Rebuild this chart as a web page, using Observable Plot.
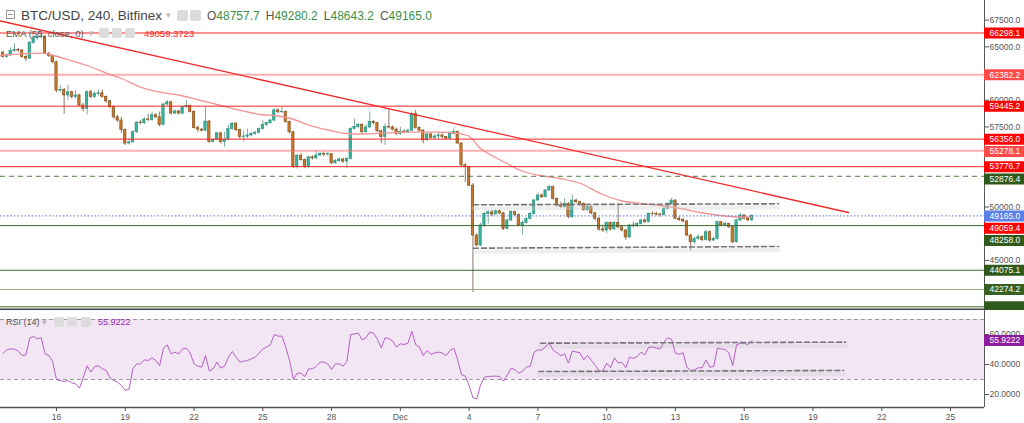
<!DOCTYPE html>
<html>
<head>
<meta charset="utf-8">
<script src="https://cdn.jsdelivr.net/npm/d3@7"></script>
<script src="https://cdn.jsdelivr.net/npm/@observablehq/plot@0.6"></script>
<style>
html,body{margin:0;padding:0;background:#fff;overflow:hidden;}
#wrap{position:relative;width:1024px;height:423px;font-family:"Liberation Sans",Arial,sans-serif;}
#main,#rsi{position:absolute;left:0;}
#main{top:0;}
#rsi{top:309px;}
.lg{position:absolute;white-space:nowrap;line-height:1;}
.ico{position:absolute;background:#dcdcdc;border-radius:2px;}
.arr{position:absolute;color:#b5b5b5;font-size:9px;line-height:1;}
</style>
</head>
<body>
<div id="wrap">
  <div id="main"></div>
  <div id="rsi"></div>
</div>
<script>
// ---------------- DATA ----------------
const firstCandle = "2021-11-13T16:00Z";   // 240-minute candles
const open = [
64450,64050,64200,64600,64700,64650,64050,63900,65380,65800,
65900,65950,64350,64150,63560,60900,60950,60450,60750,60300,
60450,59500,59200,60750,60300,60600,60650,60300,59900,59350,
58400,58100,57200,55950,56050,57000,57900,57850,58200,58150,
58600,58400,57700,59600,59800,58750,58950,58750,59350,59450,
58900,57400,57250,57150,58000,56100,56300,56900,56100,56300,
57300,57800,57200,56550,56600,56700,56850,56950,57300,57700,
57850,58100,59050,58880,58900,57950,57000,53730,54800,54400,
53750,54650,54550,54820,54980,54900,54950,54100,54300,54450,
54250,54500,57320,57480,57700,57000,57450,57950,57850,57100,
56550,57500,57450,57250,56850,57050,57000,57150,58700,57400,
57150,56250,56800,56450,56600,56700,56550,56400,56850,57050,
55950,53900,53750,52000,47330,46400,48270,49360,49500,49300,
49600,49400,47950,48740,49520,49250,48270,48500,48890,49360,
50610,51080,50920,51550,51860,50770,50140,50000,50300,49050,
50600,50450,50300,49700,50000,49400,48900,47900,47800,48500,
47900,48500,48100,47800,47150,48270,48200,48400,48740,48600,
49360,49350,49300,49250,49830,50300,50600,48900,48800,48650,
47330,46700,47000,47170,46900,47640,46860,47000,48580,48300,
48420,48110,46700,48740,49200,48900,48757.7];
const high = [
64600,64350,64900,65300,64850,64750,64200,65500,65950,66150,
66380,66050,64500,64250,63650,61400,61100,61400,60850,60900,
60550,59700,60900,60950,60800,60950,60950,60400,60000,59450,
58600,58400,57300,56400,57150,58000,58100,58350,58700,58900,
58750,58900,59700,60000,59900,59100,59050,59450,59950,59550,
59000,57600,57350,59350,58100,56400,57000,57000,57000,57650,
57900,57900,57300,57150,57300,57000,57100,57400,58100,57950,
58200,59200,59200,59350,59000,58050,57100,54950,55000,54500,
54750,54800,55290,55100,55150,55100,55000,54450,54600,54550,
54650,57450,58250,57850,57800,57700,58880,58100,57950,57200,
57790,59190,57600,57400,57480,57250,57300,58880,59040,57500,
57250,56950,56950,56800,56900,56850,56600,57000,57320,57100,
56000,54050,53800,52200,47500,48500,49500,49650,49700,49750,
49700,49500,48850,49650,49600,49350,48700,49000,49500,50700,
51300,51200,51650,52050,51950,50850,50450,50800,50400,51100,
50750,50550,50400,50200,50100,49500,49000,48300,48600,48600,
48650,50300,48250,47900,48400,48580,48550,48850,48900,49450,
49550,49520,49400,49950,50400,50800,50700,49100,48950,48750,
47450,47200,47400,47300,47800,47750,47200,48700,48650,48600,
48500,48250,48850,49400,49300,49050,49280.2];
const low = [
63950,63900,64100,64450,64500,63950,63600,63800,65250,65650,
65750,64250,64000,63400,60700,60700,58700,60000,60100,60100,
59400,58900,58600,60150,60150,60400,60200,59700,59200,58200,
57900,56900,55750,55800,55950,56900,57700,57700,58000,58050,
58300,57500,57600,59450,58600,58650,58600,58650,59250,58800,
57300,57000,57000,57050,55950,56000,56200,55900,55600,56200,
57200,57050,56350,56100,56400,56550,56700,56850,57200,57500,
57750,58000,58750,58750,57850,56850,53600,53550,54300,53600,
53650,54400,54450,54750,54700,54800,53950,54000,54200,54100,
53600,54400,57200,57350,56850,56900,57350,57700,56950,55920,
55770,57300,57100,56700,56700,56850,56900,57050,57300,57000,
55920,56150,56350,56300,56300,56400,56250,56300,56800,55850,
53800,52300,51900,42000,46250,46250,48100,48400,49100,49200,
49250,47800,47850,48650,49100,48150,47350,48400,48800,49250,
50500,50800,50850,51450,50650,50000,49850,49900,48900,48950,
50300,50100,49600,49600,49300,48700,47700,47600,47500,47750,
47800,47950,47650,46900,47050,48050,48050,48300,48450,48500,
49200,49150,49050,49150,49750,50200,48800,48650,48500,47200,
45900,46500,46850,46750,46800,46700,46750,46900,48150,48200,
48000,46550,46600,48650,48800,48600,48643.2];
const close = [
64050,64200,64600,64700,64650,64050,63900,65380,65800,65900,
65950,64350,64150,63560,60900,60950,60450,60750,60300,60450,
59500,59200,60750,60300,60600,60650,60300,59900,59350,58400,
58100,57200,55950,56050,57000,57900,57850,58200,58150,58600,
58400,57700,59600,59800,58750,58950,58750,59350,59450,58900,
57400,57250,57150,58000,56100,56300,56900,56100,56300,57300,
57800,57200,56550,56600,56700,56850,56950,57300,57700,57850,
58100,59050,58880,58900,57950,57000,53730,54800,54400,53750,
54650,54550,54820,54980,54900,54950,54100,54300,54450,54250,
54500,57320,57480,57700,57000,57450,57950,57850,57100,56550,
57500,57450,57250,56850,57050,57000,57150,58700,57400,57150,
56250,56800,56450,56600,56700,56550,56400,56850,57050,55950,
53900,53750,52000,47330,46400,48270,49360,49500,49300,49600,
49400,47950,48740,49520,49250,48270,48500,48890,49360,50610,
51080,50920,51550,51860,50770,50140,50000,50300,49050,50600,
50450,50300,49700,50000,49400,48900,47900,47800,48500,47900,
48500,48100,47800,47150,48270,48200,48400,48740,48600,49360,
49350,49300,49250,49830,50300,50600,48900,48800,48650,47330,
46700,47000,47170,46900,47640,46860,47000,48580,48300,48420,
48110,46700,48740,49200,48900,48757.7,49165.0];
const rsi = [
47.5,49.8,50.4,50.2,48.9,46,46.4,57.6,58.7,57.1,
57.8,47.1,46,42,29.8,29.3,28.7,29.3,27.8,27.1,
24.2,31.1,39.1,34.9,38.7,39.1,37.1,36,31.1,29.3,
28.2,26,22.7,23.6,37.1,40.4,40.4,43.1,42.7,44.4,
42.7,39.3,50.9,53.1,47.1,48.2,47.1,50.4,50.9,47.6,
40.4,38.9,38.2,46,35.6,37.1,41.6,37.6,38.9,44.9,
48.7,44.9,41.6,42.2,42.7,43.8,44.9,47.6,50.4,51.6,
53.3,60,58.9,58.9,51.6,42.7,30,34.2,34.2,32,
37.1,37.1,38.7,41.6,41.6,40.4,36.7,40.4,40.4,38.9,
42,60,60.4,60.9,56.4,57.8,61.6,60.9,56.7,51.1,
57.8,57.3,55.6,51.6,53.8,53.3,54.2,62.2,53.3,51.6,
46,49.3,46.7,47.8,48.2,47.6,46,49.3,50.9,43.1,
33.3,32.2,26,17.8,17.1,26.5,31.6,32,32.2,32.2,
32,28.9,33,37.6,36.5,34.2,35.6,38.2,38.9,48.2,
49.8,49.5,52,54.2,49.5,47.8,45.8,47.1,40.9,48.9,
48.4,47.8,43.1,46,42.7,39.5,35.6,35.6,40.9,37.8,
44.4,41,41.5,37.8,44.9,44,45.3,48.2,46.4,51.6,
51.6,51,50.4,54.9,57.8,56.7,47.6,46.8,47.8,38.2,
36,36.5,37.8,37.8,43.1,38.2,38.7,50.9,50.4,50,
47.6,39.3,53.1,54.2,54.2,53.3,55.9222];
// EMA(55, close): candle position and value
const emaPos = [-0.65,10.6,13.2,16.9,22,28,31,36,41,46.5,51.7,57,62.2,67.4,71.9,75.3,80.5,85.7,90.2,93.6,98.8,105.9,112.7,117.1,121.6,125,128.9,132.9,135.5,140.7,145.9,151.2,156.4,161.6,166.9,172.1,177.4,182.6,187.8,193,196];
const emaVal = [64190,64405,64190,63815,63253,62410,62035,61220,60750,60443,59975,59507,59038,58664,58523,58289,57633,57165,56884,56837,56912,57006,57006,56978,56697,55479,54636,53887,53419,52950,52669,52201,51264,50609,50328,50140,49859,49485,49204,49063,49059.3723];
// horizontal levels on the chart
const levelPrice = [66298.1,62382.2,59445.2,56356.0,55278.1,53776.7,52876.4,48258.0,44075.1,42274.2,40650.0];
const levelKind  = ["red","pink","red","red","pink","red","gdash","green","green","glight","green"];
const lastPrice = 49165.0;
const emaLast = 49059.4;
// descending trend line
const trendT = ["2021-11-13T13:22Z","2021-12-20T13:12Z"];
const trendP = [67421, 49485];
// price channel (dashed)
const chanT = ["2021-12-04T04:35Z","2021-12-17T11:55Z"];
const chanUpper = [50206, 50300];
const chanLower = [46141, 46300];
// RSI channel
const rsiUpT = ["2021-12-07T02:44Z","2021-12-20T10:05Z"], rsiUpV = [54.2, 54.9];
const rsiLoT = ["2021-12-07T00:58Z","2021-12-20T08:17Z"], rsiLoV = [35.3, 36.0];
// ticks
const priceTicks = [45000,50000,57500,60000,65000,67500];
const rsiTicks = [20,40,60];
const dayTicks = ["2021-11-16","2021-11-19","2021-11-22","2021-11-25","2021-11-28","2021-12-01","2021-12-04","2021-12-07","2021-12-10","2021-12-13","2021-12-16","2021-12-19","2021-12-22","2021-12-25"];
const dayLabels = ["16","19","22","25","28","Dec","4","7","10","13","16","19","22","25"];
const xDomain = [new Date("2021-11-13T13:22Z"), new Date("2021-12-26T11:35Z")];

// ---------------- BUILD ----------------
const HOUR = 3600e3;
const t0 = +new Date(firstCandle);
const candles = close.map((c, i) => ({t: new Date(t0 + i*4*HOUR), o: open[i], h: high[i], l: low[i], c, up: c >= open[i], r: rsi[i]}));
const ema = emaPos.map((p, i) => ({t: new Date(t0 + p*4*HOUR), v: emaVal[i]}));
const trend = trendT.map((d, i) => ({t: new Date(d), p: trendP[i]}));
const chUp = chanT.map((d, i) => ({t: new Date(d), p: chanUpper[i]}));
const chLo = chanT.map((d, i) => ({t: new Date(d), p: chanLower[i]}));
const rUp = rsiUpT.map((d, i) => ({t: new Date(d), v: rsiUpV[i]}));
const rLo = rsiLoT.map((d, i) => ({t: new Date(d), v: rsiLoV[i]}));

const FRAME_W = 984, MAIN_H = 309;
const yDom = [40400, 69341];
const pxToDate = px => new Date(+xDomain[0] + px / FRAME_W * (xDomain[1] - xDomain[0]));
const PPU = MAIN_H / (yDom[1] - yDom[0]);
const toPx = p => MAIN_H - (p - yDom[0]) * PPU;
const toP = px => yDom[0] + (MAIN_H - px) / PPU;

const STY = {
  red:   {line: "#ff2424", w: 1,   op: 1,    dash: null,  box: "#ff0000"},
  pink:  {line: "#ff6e6e", w: 2,   op: 0.55, dash: null,  box: "#ff4a4a"},
  gdash: {line: "#4f7f3f", w: 1,   op: 1,    dash: "5,4", box: "#2f5a1c"},
  green: {line: "#3d6a2c", w: 1,   op: 1,    dash: null,  box: "#2f5a1c"},
  glight:{line: "#98ad88", w: 1,   op: 1,    dash: null,  box: "#365f22"}
};
const levels = levelPrice.map((p, i) => ({p, kind: levelKind[i]}));

// axis labels (pushed apart like the price scale does)
let labels = levels.map(d => ({p: d.p, txt: d.p.toFixed(1), box: STY[d.kind].box}));
labels.push({p: lastPrice, txt: lastPrice.toFixed(1), box: "#5b80e8"});
labels.push({p: emaLast, txt: emaLast.toFixed(1), box: "#ff0000"});
labels.sort((a, b) => b.p - a.p);
let prev = -1e9;
labels.forEach(d => { let y = Math.max(toPx(d.p), prev + 12.3); prev = y; d.pos = toP(y); d.py = y; });
// a label whose box is mostly below the pane edge shows no readable text
const labelTexts = labels.filter(d => d.py < MAIN_H - 8);

const fontFamily = "Liberation Sans, Arial, sans-serif";
const bodyX1 = d => new Date(+d.t - 1.2*HOUR), bodyX2 = d => new Date(+d.t + 1.2*HOUR);

const mainMarks = [
  Plot.ruleX(candles, {x: "t", y1: "l", y2: "h", stroke: d => d.up ? "#84a79e" : "#8e7562", strokeWidth: 1}),
  Plot.rect(candles, {x1: bodyX1, x2: bodyX2, y1: d => Math.min(d.o, d.c), y2: d => Math.max(d.o, d.c),
    fill: d => d.up ? "#38b49f" : "#c97a2c", stroke: d => d.up ? "#2a9280" : "#8a5019", strokeWidth: 0.7}),
  Plot.line(ema, {x: "t", y: "v", stroke: "#f39494", strokeWidth: 1.3, curve: "monotone-x"})
];
for (const k of Object.keys(STY)) {
  const s = STY[k];
  mainMarks.push(Plot.ruleY(levels.filter(d => d.kind === k), {y: "p", stroke: s.line, strokeWidth: s.w, strokeOpacity: s.op, strokeDasharray: s.dash || undefined}));
}
mainMarks.push(
  Plot.ruleY([lastPrice], {stroke: "#4d73e6", strokeWidth: 1, strokeDasharray: "1.5,2"}),
  Plot.line(chUp, {x: "t", y: "p", stroke: "#cfcfcf", strokeWidth: 4, strokeOpacity: 0.35, dy: 3.5}),
  Plot.line(chLo, {x: "t", y: "p", stroke: "#cfcfcf", strokeWidth: 4, strokeOpacity: 0.35, dy: 3.5}),
  Plot.line(chUp, {x: "t", y: "p", stroke: "#767676", strokeWidth: 1.6, strokeDasharray: "5,3"}),
  Plot.line(chLo, {x: "t", y: "p", stroke: "#767676", strokeWidth: 1.6, strokeDasharray: "5,3"}),
  Plot.line(trend, {x: "t", y: "p", stroke: "#f22a2a", strokeWidth: 1.3}),
  Plot.ruleX([xDomain[1]], {stroke: "#5a5a5a", strokeWidth: 1}),
  Plot.ruleY([yDom[0]], {stroke: "#444", strokeWidth: 2}),
  Plot.ruleY(labels, {y: "pos", x1: () => pxToDate(984), x2: () => pxToDate(1024), stroke: "box", strokeWidth: 11}),
  Plot.text(labelTexts, {y: "pos", x: () => pxToDate(989), text: "txt", fill: "white", textAnchor: "start", fontSize: 8.5})
);

const main = Plot.plot({
  width: 1024, height: 310, marginLeft: 0, marginRight: 40, marginTop: 0, marginBottom: 1,
  style: {background: "transparent", fontSize: "8.5px", fontFamily, color: "#555"},
  color: {type: "identity"},
  x: {type: "utc", domain: xDomain, axis: null},
  y: {domain: yDom, axis: "right", ticks: priceTicks, tickFormat: d => d.toFixed(1), tickSize: 4, tickPadding: 1, label: null},
  marks: mainMarks
});
document.getElementById("main").appendChild(main);

// RSI pane
const rDom = [76.6667 - 98/1.5, 76.6667];
const dayMap = new Map(dayTicks.map((d, i) => [+new Date(d + "T00:00Z"), dayLabels[i]]));
const rsiLabel = [{v: rsi[rsi.length-1], txt: rsi[rsi.length-1].toFixed(4)}];
const rsiPlot = Plot.plot({
  width: 1024, height: 114, marginLeft: 0, marginRight: 40, marginTop: 0, marginBottom: 16,
  style: {background: "transparent", fontSize: "8.5px", fontFamily, color: "#555"},
  color: {type: "identity"},
  x: {type: "utc", domain: xDomain, axis: "bottom", ticks: dayTicks.map(d => new Date(d + "T00:00Z")), tickFormat: d => dayMap.get(+d), tickSize: 4, tickPadding: 2, label: null},
  y: {domain: rDom, axis: "right", ticks: rsiTicks, tickFormat: d => d.toFixed(4), tickSize: 4, tickPadding: 1, label: null},
  marks: [
    Plot.rect([0], {x1: () => xDomain[0], x2: () => xDomain[1], y1: () => 30, y2: () => 70, fill: "#f2e5f4"}),
    Plot.ruleY([30, 70], {stroke: "#9a9a9a", strokeDasharray: "4,3", strokeWidth: 1}),
    Plot.line(rUp, {x: "t", y: "v", stroke: "#cfcfcf", strokeWidth: 4, strokeOpacity: 0.35, dy: 3.5}),
    Plot.line(rLo, {x: "t", y: "v", stroke: "#cfcfcf", strokeWidth: 4, strokeOpacity: 0.35, dy: 3.5}),
    Plot.line(candles, {x: "t", y: "r", stroke: "#b55fc6", strokeWidth: 1}),
    Plot.line(rUp, {x: "t", y: "v", stroke: "#767676", strokeWidth: 1.6, strokeDasharray: "5,3"}),
    Plot.line(rLo, {x: "t", y: "v", stroke: "#767676", strokeWidth: 1.6, strokeDasharray: "5,3"}),
    Plot.ruleY([rDom[0]], {stroke: "#555", strokeWidth: 1.5}),
    Plot.ruleX([xDomain[1]], {stroke: "#5a5a5a", strokeWidth: 1}),
    Plot.ruleY(rsiLabel, {y: "v", x1: () => pxToDate(984), x2: () => pxToDate(1024), stroke: "#8e1c9e", strokeWidth: 11}),
    Plot.text(rsiLabel, {y: "v", x: () => pxToDate(989), text: "txt", fill: "white", textAnchor: "start", fontSize: 8.5})
  ]
});
document.getElementById("rsi").appendChild(rsiPlot);

// ---------------- LEGENDS ----------------
const wrap = document.getElementById("wrap");
function add(html, css) { const d = document.createElement("div"); d.className = "lg"; d.style.cssText = css; d.innerHTML = html; wrap.appendChild(d); return d; }
function icon(x, y, s) { const d = document.createElement("div"); d.className = "ico"; d.style.cssText = `left:${x}px;top:${y}px;width:${s}px;height:${s}px;`; wrap.appendChild(d); }
function arrow(x, y) { const d = document.createElement("div"); d.className = "arr"; d.style.cssText = `left:${x}px;top:${y}px;`; d.textContent = "▾"; wrap.appendChild(d); }

const last = candles[candles.length - 1];
add('<div style="margin:3px 1px 0;height:1px;background:#999"></div>', "left:6px;top:10px;width:9px;height:9px;border:1px solid #9a9a9a;box-sizing:border-box;");
add("BTC/USD, 240, Bitfinex", "left:21px;top:9px;font-size:13.5px;color:#444;");
arrow(166, 11); icon(177, 10, 11); icon(190, 10, 11);
const ohlc = [["O", last.o], ["H", last.h], ["L", last.l], ["C", last.c]];
add(ohlc.map(([k, v]) => `<span style="color:#555">${k}</span><span style="color:#3c8f48">${v.toFixed(1)}</span>`).join('<span style="display:inline-block;width:6px"></span>'),
    "left:207px;top:9.5px;font-size:12px;");
add("EMA (55, close, 0)", "left:6px;top:29px;font-size:9.5px;color:#555;");
arrow(89, 29); icon(99, 28, 10); icon(112, 28, 10); icon(125, 28, 10);
add(emaVal[emaVal.length - 1].toFixed(4), "left:144px;top:29px;font-size:9.5px;color:#ff1a1a;");
add("RSI (14)", "left:6px;top:318px;font-size:9px;color:#555;");
arrow(42, 318); icon(54, 317, 10); icon(67, 317, 10); icon(81, 317, 10);
add(rsi[rsi.length - 1].toFixed(4), "left:98px;top:318px;font-size:9px;color:#9c27b0;");
</script>
</body>
</html>
